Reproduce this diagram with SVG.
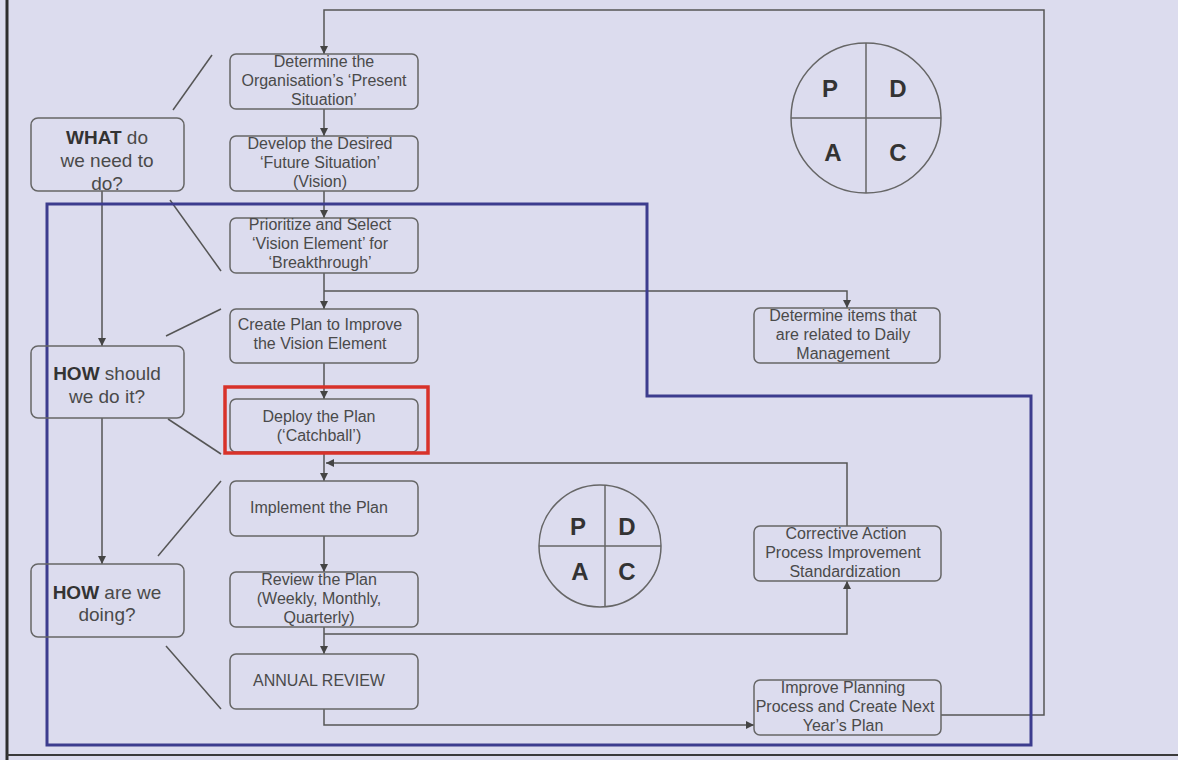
<svg xmlns="http://www.w3.org/2000/svg" width="1178" height="760" viewBox="0 0 1178 760">
<defs>
<style>
.bx{fill:none;stroke:#666;stroke-width:1.5}
.t{font-family:"Liberation Sans",Arial,sans-serif;font-size:16px;fill:#4a4a4a;text-anchor:middle}
.q{font-family:"Liberation Sans",Arial,sans-serif;font-size:19px;fill:#4a4a4a;text-anchor:middle}
.q tspan.b{font-weight:bold;fill:#333}
.c{fill:none;stroke:#555;stroke-width:1.5}
.a{fill:none;stroke:#555;stroke-width:1.5;marker-end:url(#ah)}
.dg{stroke:#555;stroke-width:1.5}
.L{font-family:"Liberation Sans",Arial,sans-serif;font-weight:bold;fill:#333;text-anchor:middle}
</style>
<marker id="ah" viewBox="0 0 10 10" refX="10" refY="5" markerWidth="8" markerHeight="8" markerUnits="userSpaceOnUse" orient="auto"><path d="M0,0L10,5L0,10z" fill="#444"/></marker>
</defs>
<rect width="1178" height="760" fill="#dcdcee"/>
<line x1="7" y1="0" x2="7" y2="760" stroke="#2e2e2e" stroke-width="3"/>
<line x1="7" y1="755" x2="1178" y2="755" stroke="#3a3a3a" stroke-width="2"/>

<g id="connectors">
<path class="a" d="M941,715H1044V10H324V54"/>
<path class="a" d="M324,109V136"/>
<path class="a" d="M324,191V218"/>
<path class="a" d="M324,273V309"/>
<path class="a" d="M324,291H847V308"/>
<path class="a" d="M324,363V399"/>
<path class="a" d="M324,453V481"/>
<path class="a" d="M847,526V463H326"/>
<path class="a" d="M324,536V572"/>
<path class="a" d="M324,627V654"/>
<path class="a" d="M324,634H847V581"/>
<path class="a" d="M324,709V725H754"/>
<path class="a" d="M102,191V346"/>
<path class="a" d="M102,418V564"/>
<line class="dg" x1="173" y1="110" x2="212" y2="55"/>
<line class="dg" x1="170" y1="200" x2="221" y2="271"/>
<line class="dg" x1="166" y1="336" x2="221" y2="309"/>
<line class="dg" x1="168" y1="419" x2="221" y2="454"/>
<line class="dg" x1="158" y1="556" x2="221" y2="481"/>
<line class="dg" x1="166" y1="646" x2="221" y2="709"/>
</g>

<g id="blue-boundary">
<path d="M47,204H647V396H1031V745H47Z" fill="none" stroke="#3c3c8e" stroke-width="3"/>
</g>

<g id="what">
<rect class="bx" x="31" y="118" width="153" height="73" rx="7"/>
<text class="q" x="107" y="144"><tspan class="b">WHAT</tspan> do</text>
<text class="q" x="107" y="167">we need to</text>
<text class="q" x="107" y="190">do?</text>
</g>
<g id="how-should">
<rect class="bx" x="31" y="346" width="153" height="72" rx="7"/>
<text class="q" x="107" y="380"><tspan class="b">HOW</tspan> should</text>
<text class="q" x="107" y="403">we do it?</text>
</g>
<g id="how-are">
<rect class="bx" x="31" y="564" width="153" height="73" rx="7"/>
<text class="q" x="107" y="599"><tspan class="b">HOW</tspan> are we</text>
<text class="q" x="107" y="621">doing?</text>
</g>

<g id="n1">
<rect class="bx" x="230" y="54" width="188" height="55" rx="6"/>
<text class="t" x="324" y="67">Determine the</text>
<text class="t" x="324" y="86">Organisation’s ‘Present</text>
<text class="t" x="324" y="105">Situation’</text>
</g>
<g id="n2">
<rect class="bx" x="230" y="136" width="188" height="55" rx="6"/>
<text class="t" x="320" y="149">Develop the Desired</text>
<text class="t" x="320" y="168">‘Future Situation’</text>
<text class="t" x="320" y="187">(Vision)</text>
</g>
<g id="n3">
<rect class="bx" x="230" y="218" width="188" height="55" rx="6"/>
<text class="t" x="320" y="230">Prioritize and Select</text>
<text class="t" x="320" y="249">‘Vision Element’ for</text>
<text class="t" x="320" y="268">‘Breakthrough’</text>
</g>
<g id="n4">
<rect class="bx" x="230" y="309" width="188" height="54" rx="6"/>
<text class="t" x="320" y="330">Create Plan to Improve</text>
<text class="t" x="320" y="349">the Vision Element</text>
</g>
<g id="n5">
<rect class="bx" x="230" y="399" width="188" height="53" rx="6"/>
<rect x="225" y="387" width="203" height="66" fill="none" stroke="#d8322a" stroke-width="3.5"/>
<text class="t" x="319" y="422">Deploy the Plan</text>
<text class="t" x="319" y="441">(‘Catchball’)</text>
</g>
<g id="n6">
<rect class="bx" x="230" y="481" width="188" height="55" rx="6"/>
<text class="t" x="319" y="513">Implement the Plan</text>
</g>
<g id="n7">
<rect class="bx" x="230" y="572" width="188" height="55" rx="6"/>
<text class="t" x="319" y="585">Review the Plan</text>
<text class="t" x="319" y="604">(Weekly, Monthly,</text>
<text class="t" x="319" y="623">Quarterly)</text>
</g>
<g id="n8">
<rect class="bx" x="230" y="654" width="188" height="55" rx="6"/>
<text class="t" x="319" y="686">ANNUAL REVIEW</text>
</g>
<g id="daily">
<rect class="bx" x="754" y="308" width="186" height="55" rx="6"/>
<text class="t" x="843" y="321">Determine items that</text>
<text class="t" x="843" y="340">are related to Daily</text>
<text class="t" x="843" y="359">Management</text>
</g>
<g id="corrective">
<rect class="bx" x="754" y="526" width="187" height="55" rx="6"/>
<text class="t" x="846" y="539">Corrective Action</text>
<text class="t" x="843" y="558">Process Improvement</text>
<text class="t" x="845" y="577">Standardization</text>
</g>
<g id="improve">
<rect class="bx" x="754" y="680" width="187" height="55" rx="6"/>
<text class="t" x="843" y="693">Improve Planning</text>
<text class="t" x="845" y="712">Process and Create Next</text>
<text class="t" x="843" y="731">Year’s Plan</text>
</g>

<g id="pdca-top">
<circle cx="866" cy="118" r="75" fill="none" stroke="#666" stroke-width="1.5"/>
<line x1="866" y1="43" x2="866" y2="193" stroke="#666" stroke-width="1.5"/>
<line x1="791" y1="118" x2="941" y2="118" stroke="#666" stroke-width="1.5"/>
<text class="L" x="830" y="97" font-size="24">P</text>
<text class="L" x="898" y="97" font-size="24">D</text>
<text class="L" x="833" y="161" font-size="24">A</text>
<text class="L" x="898" y="161" font-size="24">C</text>
</g>
<g id="pdca-bottom">
<circle cx="600" cy="546" r="61" fill="none" stroke="#666" stroke-width="1.5"/>
<line x1="605" y1="485" x2="605" y2="607" stroke="#666" stroke-width="1.5"/>
<line x1="539" y1="546" x2="661" y2="546" stroke="#666" stroke-width="1.5"/>
<text class="L" x="578" y="535" font-size="24">P</text>
<text class="L" x="627" y="535" font-size="24">D</text>
<text class="L" x="580" y="580" font-size="24">A</text>
<text class="L" x="627" y="580" font-size="24">C</text>
</g>
</svg>
